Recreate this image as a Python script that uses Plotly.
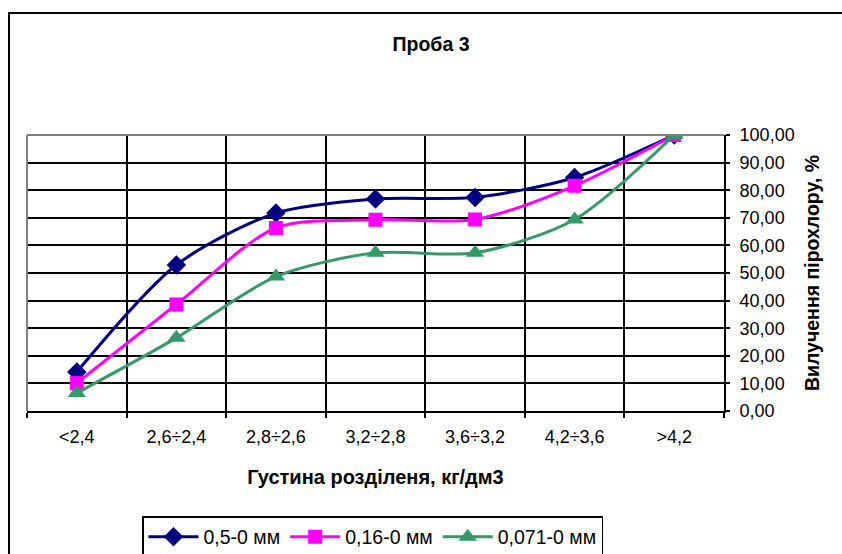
import plotly.graph_objects as go

categories = ["<2,4", "2,6÷2,4", "2,8÷2,6", "3,2÷2,8", "3,6÷3,2", "4,2÷3,6", ">4,2"]
s1_name = "0,5-0 мм"
s1 = [14.1, 52.9, 71.7, 76.8, 77.4, 84.6, 100.0]
s2_name = "0,16-0 мм"
s2 = [10.1, 38.6, 66.3, 69.3, 69.4, 81.6, 100.0]
s3_name = "0,071-0 мм"
s3 = [6.5, 26.5, 48.7, 57.3, 57.3, 69.4, 100.0]

W, H = 842, 554
L, R, T, B = 27, 724, 135, 411
FONT = "Liberation Sans, Arial, sans-serif"

fig = go.Figure()
fig.add_trace(go.Scatter(x=categories, y=s1, name=s1_name, mode="lines+markers",
                         line=dict(color="#000080", width=3, shape="spline", smoothing=0.8),
                         marker=dict(symbol="diamond", size=15, color="#000080")))
fig.add_trace(go.Scatter(x=categories, y=s2, name=s2_name, mode="lines+markers",
                         line=dict(color="#FF00FF", width=3, shape="spline", smoothing=0.8),
                         marker=dict(symbol="square", size=14, color="#FF00FF")))
fig.add_trace(go.Scatter(x=categories, y=s3, name=s3_name, mode="lines+markers",
                         line=dict(color="#339966", width=3, shape="spline", smoothing=0.8),
                         marker=dict(symbol="triangle-up", size=16, color="#339966")))

def px2x(px):
    return (px - L) / (R - L)

def px2y(py):
    return (B - py) / (B - T)

shapes = [
    # outer chart frame
    dict(type="rect", xref="paper", yref="paper", x0=px2x(9), x1=px2x(860),
         y0=px2y(13), y1=px2y(580), line=dict(color="black", width=2), layer="below"),
    # plot area gray border top/left
    dict(type="line", xref="paper", yref="paper", x0=0, x1=1, y0=1, y1=1,
         line=dict(color="#808080", width=2), layer="above"),
    dict(type="line", xref="paper", yref="paper", x0=0, x1=0, y0=0, y1=1,
         line=dict(color="#808080", width=2), layer="above"),
]

fig.update_layout(
    width=W, height=H,
    margin=dict(l=L, r=W - R, t=T, b=H - B, autoexpand=False),
    paper_bgcolor="white", plot_bgcolor="white",
    separators=", ",
    font=dict(family=FONT, size=18, color="black"),
    title=dict(text="<b>Проба 3</b>", x=431 / W, xref="container", xanchor="center",
               y=1 - 44 / H, yref="container", yanchor="middle",
               font=dict(size=19.5, family=FONT, color="black")),
    showlegend=True,
    legend=dict(orientation="h", x=px2x(142), y=px2y(516), xanchor="left", yanchor="top",
                xref="paper", yref="paper",
                bordercolor="black", borderwidth=1.5, bgcolor="white",
                font=dict(size=19.5, family=FONT, color="black"),
                itemwidth=50, tracegroupgap=0),
    shapes=shapes,
)

fig.update_xaxes(
    type="category", tickson="boundaries", ticks="outside", ticklen=5, tickcolor="black",
    tickwidth=1.5, showgrid=True, gridcolor="black", gridwidth=1.5,
    showline=True, linecolor="black", linewidth=2,
    tickfont=dict(size=18, family=FONT, color="black"),
    ticklabelstandoff=8,
    range=[-0.5, 6.5], automargin=False,
    title=dict(text="<b>Густина розділеня, кг/дм3</b>", standoff=24,
               font=dict(size=20, family=FONT, color="black")),
)
fig.update_yaxes(
    side="right", range=[0, 100], dtick=10, tick0=0, tickformat=".2f",
    ticks="outside", ticklen=4, tickcolor="black", tickwidth=1.5,
    showgrid=True, gridcolor="black", gridwidth=1.5, zeroline=False,
    showline=True, linecolor="black", linewidth=2, automargin=False,
    tickfont=dict(size=18, family=FONT, color="black"),
    ticklabelstandoff=6,
    title=dict(text="<b>Вилучення пірохлору, %</b>", standoff=12,
               font=dict(size=19.5, family=FONT, color="black")),
)

fig.write_html("out.html")
